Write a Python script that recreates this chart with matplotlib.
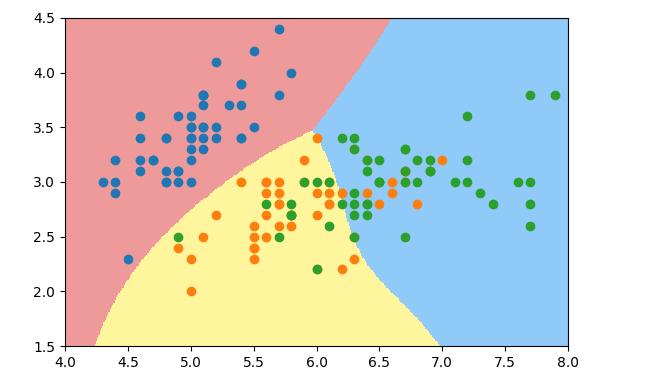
import numpy as np
import matplotlib
matplotlib.use("Agg")
import matplotlib.pyplot as plt
from matplotlib.colors import ListedColormap

# Iris: sepal length / sepal width per class
setosa_len = [5.1,4.9,4.7,4.6,5.0,5.4,4.6,5.0,4.4,4.9,5.4,4.8,4.8,4.3,5.8,5.7,5.4,5.1,5.7,5.1,
              5.4,5.1,4.6,5.1,4.8,5.0,5.0,5.2,5.2,4.7,4.8,5.4,5.2,5.5,4.9,5.0,5.5,4.9,4.4,5.1,
              5.0,4.5,4.4,5.0,5.1,4.8,5.1,4.6,5.3,5.0]
setosa_wid = [3.5,3.0,3.2,3.1,3.6,3.9,3.4,3.4,2.9,3.1,3.7,3.4,3.0,3.0,4.0,4.4,3.9,3.5,3.8,3.8,
              3.4,3.7,3.6,3.3,3.4,3.0,3.4,3.5,3.4,3.2,3.1,3.4,4.1,4.2,3.1,3.2,3.5,3.6,3.0,3.4,
              3.5,2.3,3.2,3.5,3.8,3.0,3.8,3.2,3.7,3.3]
versi_len = [7.0,6.4,6.9,5.5,6.5,5.7,6.3,4.9,6.6,5.2,5.0,5.9,6.0,6.1,5.6,6.7,5.6,5.8,6.2,5.6,
             5.9,6.1,6.3,6.1,6.4,6.6,6.8,6.7,6.0,5.7,5.5,5.5,5.8,6.0,5.4,6.0,6.7,6.3,5.6,5.5,
             5.5,6.1,5.8,5.0,5.6,5.7,5.7,6.2,5.1,5.7]
versi_wid = [3.2,3.2,3.1,2.3,2.8,2.8,3.3,2.4,2.9,2.7,2.0,3.0,2.2,2.9,2.9,3.1,3.0,2.7,2.2,2.5,
             3.2,2.8,2.5,2.8,2.9,3.0,2.8,3.0,2.9,2.6,2.4,2.4,2.7,2.7,3.0,3.4,3.1,2.3,3.0,2.5,
             2.6,3.0,2.6,2.3,2.7,3.0,2.9,2.9,2.5,2.8]
virg_len = [6.3,5.8,7.1,6.3,6.5,7.6,4.9,7.3,6.7,7.2,6.5,6.4,6.8,5.7,5.8,6.4,6.5,7.7,7.7,6.0,
            6.9,5.6,7.7,6.3,6.7,7.2,6.2,6.1,6.4,7.2,7.4,7.9,6.4,6.3,6.1,7.7,6.3,6.4,6.0,6.9,
            6.7,6.9,5.8,6.8,6.7,6.7,6.3,6.5,6.2,5.9]
virg_wid = [3.3,2.7,3.0,2.9,3.0,3.0,2.5,2.9,2.5,3.6,3.2,2.7,3.0,2.5,2.8,3.2,3.0,3.8,2.6,2.2,
            3.2,2.8,2.8,2.7,3.3,3.2,2.8,3.0,2.8,3.0,2.8,3.8,2.8,2.8,2.6,3.0,3.4,3.1,3.0,3.1,
            3.1,3.1,2.7,3.2,3.3,3.0,2.5,3.0,3.4,3.0]

x_ticks = [4.0, 4.5, 5.0, 5.5, 6.0, 6.5, 7.0, 7.5, 8.0]
y_ticks = [1.5, 2.0, 2.5, 3.0, 3.5, 4.0, 4.5]
region_colors = ['#EF9A9A', '#FFF59D', '#90CAF9']
gamma = 1.0
ridge = 1.0

X = np.column_stack([setosa_len + versi_len + virg_len, setosa_wid + versi_wid + virg_wid])
y = np.array([0]*len(setosa_len) + [1]*len(versi_len) + [2]*len(virg_len))
Y = np.eye(3)[y] * 2 - 1

# RBF kernel ridge classifier (one-vs-rest) evaluated on a mesh
D_tr = ((X[:, None] - X[None]) ** 2).sum(-1)
alpha = np.linalg.solve(np.exp(-gamma * D_tr) + ridge * np.eye(len(X)), Y)
h = 0.01
xx, yy = np.meshgrid(np.arange(3.95, 8.05, h), np.arange(1.45, 4.55, h))
grid = np.column_stack([xx.ravel(), yy.ravel()])
D_gr = ((grid[:, None] - X[None]) ** 2).sum(-1)
Z = (np.exp(-gamma * D_gr) @ alpha).argmax(1).reshape(xx.shape)

fig = plt.figure(figsize=(6.47, 3.83), dpi=100)
ax = fig.add_axes([0.1005, 0.0966, 0.7775, 0.8565])
ax.pcolormesh(xx, yy, Z, cmap=ListedColormap(region_colors), shading='auto')
ax.scatter(setosa_len, setosa_wid)
ax.scatter(versi_len, versi_wid)
ax.scatter(virg_len, virg_wid)
ax.set_xlim(4.0, 8.0)
ax.set_ylim(1.5, 4.5)
ax.set_xticks(x_ticks)
ax.set_yticks(y_ticks)
fig.savefig("out.png", dpi=100)
